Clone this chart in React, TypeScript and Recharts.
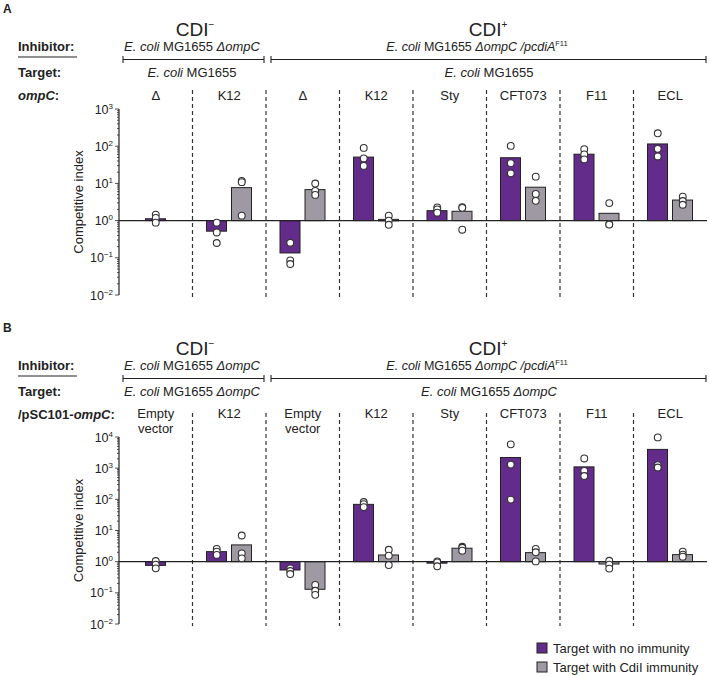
import React from 'react';
import { ComposedChart, Bar, Scatter, XAxis, YAxis, ReferenceLine } from 'recharts';

const PURPLE = '#632b8a';
const GREY = '#9e99a3';
const INK = '#222';
const FONT = '"Liberation Sans", Arial, Helvetica, sans-serif';
const BAR_SIZE = 20;
const BAR_GAP = 5;

// panel A: target with wild-type / swapped ompC alleles
const idsA = ['a1', 'a2', 'a3', 'a4', 'a5', 'a6', 'a7', 'a8'];
const labelsA = ['Δ', 'K12', 'Δ', 'K12', 'Sty', 'CFT073', 'F11', 'ECL'];
const noImmA = [1.12, 0.52, 0.135, 51, 1.85, 49, 61, 115];
const immA = [null, 7.7, 6.8, 1.08, 1.78, 7.9, 1.57, 3.57];
const noImmDotsA = [
  [1.45, 1.18, 0.88], [0.88, 0.48, 0.25], [0.254, 0.085, 0.068], [90, 47, 29.5],
  [2.26, 2.0, 1.63], [102, 35, 18.7], [83, 60, 44], [222, 85, 53],
];
const immDotsA = [
  [], [11.7, 10.8, 1.36], [9.9, 6.3, 4.9], [1.36, 1.0, 0.77],
  [2.3, 2.2, 0.57], [15.2, 5.2, 3.4], [2.95, 0.8, 0.78], [4.4, 3.35, 2.67],
];

// panel B: ΔompC target complemented with /pSC101-ompC
const idsB = ['b1', 'b2', 'b3', 'b4', 'b5', 'b6', 'b7', 'b8'];
const labelsB = ['Empty vector', 'K12', 'Empty vector', 'K12', 'Sty', 'CFT073', 'F11', 'ECL'];
const noImmB = [0.76, 2.1, 0.54, 69, 0.9, 2200, 1100, 4000];
const immB = [null, 3.45, 0.13, 1.64, 2.7, 1.95, 0.84, 1.68];
const noImmDotsB = [
  [1.05, 0.8, 0.61], [2.57, 2.1, 1.64], [0.61, 0.5, 0.4], [82, 70, 56],
  [1.02, 0.95, 0.71], [5800, 1300, 98], [2050, 820, 560], [9700, 1250, 1050],
];
const immDotsB = [
  [], [6.9, 1.85, 1.28], [0.18, 0.116, 0.086], [2.4, 1.56, 0.78],
  [3.0, 2.8, 2.26], [2.57, 2.0, 1.02], [1.07, 0.8, 0.6], [2.1, 1.68, 1.45],
];

const logTicks = (lo: number, hi: number) => {
  const out: number[] = [];
  for (let e = lo; e < hi; e++) for (let m = 1; m < 10; m++) out.push(m * Math.pow(10, e));
  out.push(Math.pow(10, hi));
  return out;
};

const LogTick = ({ x, y, payload }: any) => {
  const lg = Math.log10(payload.value);
  const e = Math.round(lg);
  const major = Math.abs(lg - e) < 1e-6;
  return (
    <g>
      <line x1={x} x2={x - (major ? 4 : 2)} y1={y} y2={y} stroke={INK} strokeWidth={0.8} />
      {major && (
        <text x={x - 6} y={y + 4.5} textAnchor="end" fontSize={12.5} fill={INK} fontFamily={FONT}>
          10<tspan dy={-5} fontSize={8}>{e < 0 ? '−' + -e : e}</tspan>
        </text>
      )}
    </g>
  );
};

const shiftFor = (dir: number, single: boolean) => (single ? 0 : (dir * (BAR_SIZE + BAR_GAP)) / 2);

const makeBarShape = (dir: number) => (p: any) => {
  if (p.height == null || p.width == null) return <g />;
  const single = dir < 0 && p.payload.g == null;
  const x = p.x + (single ? (BAR_SIZE + BAR_GAP) / 2 : 0);
  const y = Math.min(p.y, p.y + p.height);
  const h = Math.max(Math.abs(p.height), 1.5);
  return <rect x={x} y={y} width={p.width} height={h} fill={p.fill} stroke={INK} strokeWidth={1} />;
};

const makeDot = (dir: number) => (p: any) => {
  if (p.cx == null || p.cy == null) return <g />;
  return (
    <circle cx={p.cx + shiftFor(dir, p.payload.single)} cy={p.cy} r={3.4}
      fill="#fff" stroke="#333" strokeWidth={1.1} />
  );
};

function Panel(props: any) {
  const { ids, labels, noImm, imm, noImmDots, immDots, top, height, margin, maxExp, labelY, ext } = props;
  const data = ids.map((id: string, i: number) => ({ id, p: noImm[i], g: imm[i] }));
  const dotsP = noImmDots.flatMap((vals: number[], i: number) =>
    vals.map((v) => ({ id: ids[i], v, single: imm[i] == null })));
  const dotsG = immDots.flatMap((vals: number[], i: number) =>
    vals.map((v) => ({ id: ids[i], v, single: false })));

  const TopTick = ({ x, index }: any) => {
    const lines = labels[index].split(' ');
    return (
      <text x={x} y={labelY} textAnchor="middle" fontSize={13} fill={INK} fontFamily={FONT}>
        {lines.map((l: string, k: number) => (
          <tspan key={k} x={x} dy={k === 0 ? 0 : 15}>{l}</tspan>
        ))}
      </text>
    );
  };

  const YLabel = ({ viewBox }: any) => {
    const cx = viewBox.x + 19;
    const cy = viewBox.y + viewBox.height / 2;
    return (
      <text x={cx} y={cy} transform={`rotate(-90 ${cx} ${cy})`} textAnchor="middle"
        dominantBaseline="central" fontSize={13} fill={INK} fontFamily={FONT}>
        Competitive index
      </text>
    );
  };

  const Divider = (p: any) => (
    <line x1={p.x1} x2={p.x2} y1={Math.min(p.y1, p.y2) - ext} y2={Math.max(p.y1, p.y2) + 2}
      stroke="#333" strokeWidth={1.2} strokeDasharray="4 3" />
  );

  return (
    <div style={{ position: 'absolute', left: 0, top, width: 709, height }}>
      <ComposedChart width={709} height={height} data={data} margin={margin}
        barSize={BAR_SIZE} barGap={BAR_GAP}>
        <XAxis dataKey="id" xAxisId={0} orientation="top" height={20} allowDuplicatedCategory={false}
          axisLine={false} tickLine={false} interval={0} tick={<TopTick />} />
        <YAxis type="number" scale="log" domain={[0.01, Math.pow(10, maxExp)]}
          ticks={logTicks(-2, maxExp)} interval={0} width={60} tickSize={0} tickMargin={0}
          tickLine={false} axisLine={{ stroke: INK, strokeWidth: 1.2 }} tick={<LogTick />}
          label={<YLabel />} />
        {ids.slice(1).map((id: string) => (
          <ReferenceLine key={id} x={id} position="start" shape={Divider} />
        ))}
        <Bar dataKey={(d: any) => (d.p == null ? null : [Math.min(1, d.p), Math.max(1, d.p)])}
          name="Target with no immunity" fill={PURPLE} shape={makeBarShape(-1)} isAnimationActive={false} />
        <Bar dataKey={(d: any) => (d.g == null ? null : [Math.min(1, d.g), Math.max(1, d.g)])}
          name="Target with CdiI immunity" fill={GREY} shape={makeBarShape(1)} isAnimationActive={false} />
        <ReferenceLine y={1} stroke={INK} strokeWidth={1.2} />
        <Scatter data={dotsP} dataKey="v" shape={makeDot(-1)} legendType="none" isAnimationActive={false} />
        <Scatter data={dotsG} dataKey="v" shape={makeDot(1)} legendType="none" isAnimationActive={false} />
      </ComposedChart>
    </div>
  );
}

const It = ({ children }: any) => <tspan fontStyle="italic">{children}</tspan>;

const Bracket = ({ x1, x2, y }: any) => (
  <g stroke={INK} strokeWidth={1.1}>
    <line x1={x1} x2={x2} y1={y} y2={y} />
    <line x1={x1} x2={x1} y1={y - 3.5} y2={y + 3.5} />
    <line x1={x2} x2={x2} y1={y - 3.5} y2={y + 3.5} />
  </g>
);

function Header({ dy, tag, targetNeg, targetPos, rowLabel }: any) {
  const t = { fontFamily: FONT, fill: INK };
  return (
    <g {...t}>
      <text x={3} y={13 + dy} fontSize={12} fontWeight="bold">{tag}</text>
      <text x={195} y={36 + dy} fontSize={19} textAnchor="middle">
        CDI<tspan dy={-8} fontSize={10}>−</tspan>
      </text>
      <text x={488} y={36 + dy} fontSize={19} textAnchor="middle">
        CDI<tspan dy={-8} fontSize={10}>+</tspan>
      </text>
      <text x={18} y={51 + dy} fontSize={13} fontWeight="bold">Inhibitor:</text>
      <line x1={18} x2={77} y1={57 + dy} y2={57 + dy} stroke={INK} strokeWidth={1.1} />
      <text x={192} y={51 + dy} fontSize={13} textAnchor="middle">
        <It>E. coli</It>{' MG1655 '}<It>ΔompC</It>
      </text>
      <text x={477} y={51 + dy} fontSize={12.5} textAnchor="middle">
        <It>E. coli</It>{' MG1655 '}<It>ΔompC</It>{' '}<It>/pcdiA</It>
        <tspan dy={-5} fontSize={7.5}>F11</tspan>
      </text>
      <Bracket x1={123} x2={264} y={59.5 + dy} />
      <Bracket x1={271} x2={706} y={59.5 + dy} />
      <text x={18} y={77 + dy} fontSize={13} fontWeight="bold">Target:</text>
      <text x={192} y={77 + dy} fontSize={13} textAnchor="middle">{targetNeg}</text>
      <text x={489} y={77 + dy} fontSize={13} textAnchor="middle">{targetPos}</text>
      <text x={18} y={100 + dy} fontSize={13} fontWeight="bold">{rowLabel}</text>
    </g>
  );
}

export default function App() {
  const mg = (
    <>
      <It>E. coli</It>{' MG1655'}
    </>
  );
  const mgDel = (
    <>
      <It>E. coli</It>{' MG1655 '}<It>ΔompC</It>
    </>
  );
  return (
    <div style={{ position: 'absolute', left: 0, top: 0, width: 709, height: 676, background: '#fff' }}>
      <Panel ids={idsA} labels={labelsA} noImm={noImmA} imm={immA} noImmDots={noImmDotsA} immDots={immDotsA}
        top={0} height={312} margin={{ top: 89, right: 2, bottom: 17, left: 59 }} maxExp={3} labelY={100} ext={19} />
      <Panel ids={idsB} labels={labelsB} noImm={noImmB} imm={immB} noImmDots={noImmDotsB} immDots={immDotsB}
        top={320} height={318} margin={{ top: 97, right: 2, bottom: 14, left: 59 }} maxExp={4} labelY={98} ext={24} />
      <svg width={709} height={676} style={{ position: 'absolute', left: 0, top: 0, pointerEvents: 'none' }}>
        <Header dy={0} tag="A" targetNeg={mg} targetPos={mg} rowLabel={<><It>ompC</It>:</>} />
        <Header dy={319} tag="B" targetNeg={mgDel} targetPos={mgDel}
          rowLabel={<>/pSC101-<It>ompC</It>:</>} />
        <g fontFamily={FONT} fontSize={13} fill={INK}>
          <rect x={537} y={643} width={10} height={10} fill={PURPLE} stroke={INK} />
          <text x={553} y={653}>Target with no immunity</text>
          <rect x={537} y={662} width={10} height={10} fill={GREY} stroke={INK} />
          <text x={553} y={672}>Target with CdiI immunity</text>
        </g>
      </svg>
    </div>
  );
}
